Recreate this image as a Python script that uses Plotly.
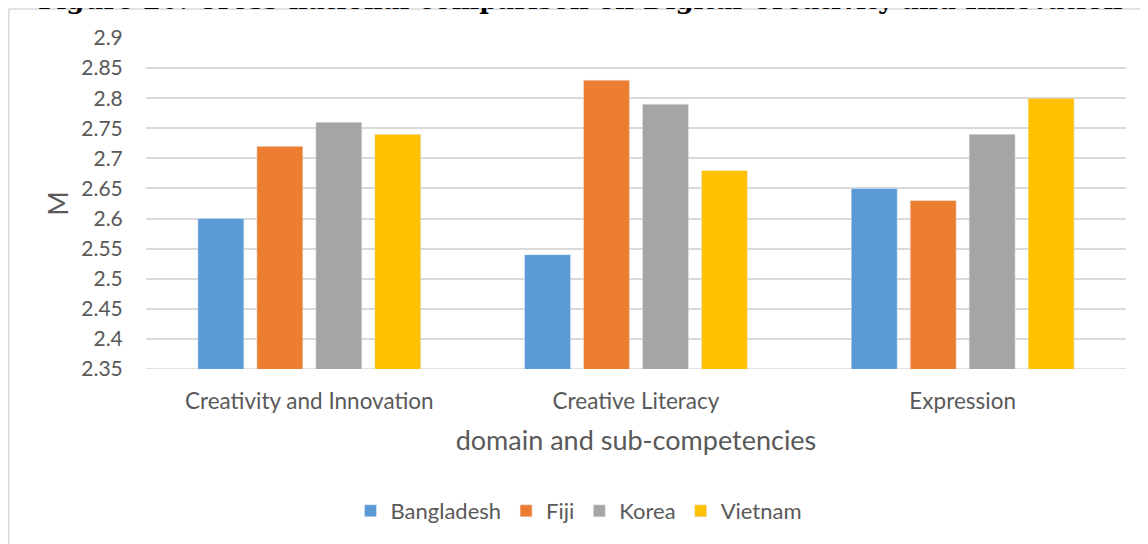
import plotly.graph_objects as go

categories = ["Creativity and Innovation", "Creative Literacy", "Expression"]
countries = ["Bangladesh", "Fiji", "Korea", "Vietnam"]
bangladesh = [2.60, 2.54, 2.65]
fiji = [2.72, 2.83, 2.63]
korea = [2.76, 2.79, 2.74]
vietnam = [2.74, 2.68, 2.80]
series = [bangladesh, fiji, korea, vietnam]
colors = ["#5b9bd5", "#ed7d31", "#a5a5a5", "#ffc000"]
y_ticks = [2.35, 2.4, 2.45, 2.5, 2.55, 2.6, 2.65, 2.7, 2.75, 2.8, 2.85, 2.9]
y_tick_labels = ["2.35", "2.4", "2.45", "2.5", "2.55", "2.6", "2.65", "2.7", "2.75", "2.8", "2.85", "2.9"]
title_text = "Figure 20. Cross-national comparison on Digital Creativity and Innovation"

# page offset caused by the default body margin of the html page
OFF = 8
W, H = 1148 - OFF, 544 - OFF
# plot area in page pixels: x 146..1126, y 38..369
ml = 146 - OFF
mt = 38 - OFF
mr = W - (1126 - OFF)
mb = H - (369 - OFF)
pw, ph = W - ml - mr, H - mt - mb

def px_x(x):
    return (x - OFF - ml) / pw

def px_y(y):
    return 1 - (y - OFF - mt) / ph

font_family = "Lato"
text_color = "#595959"

fig = go.Figure()
for name, vals, col in zip(countries, series, colors):
    fig.add_trace(go.Bar(name=name, x=categories, y=vals, marker=dict(color=col)))

fig.update_layout(
    width=W, height=H,
    margin=dict(l=ml, r=mr, t=mt, b=mb, autoexpand=False),
    paper_bgcolor="white", plot_bgcolor="white",
    barmode="group", bargap=0.278, bargroupgap=0.22,
    font=dict(family=font_family, color=text_color, size=21),
    showlegend=True,
    legend=dict(orientation="h", x=px_x(579), xanchor="center", y=px_y(511), yanchor="middle",
                font=dict(size=22, color=text_color), itemwidth=30, traceorder="normal"),
    xaxis=dict(showgrid=False, showline=False, ticks="", ticklabelstandoff=16, automargin=False,
               tickfont=dict(size=22.5, color=text_color),
               title=dict(text="domain and sub-competencies", font=dict(size=27, color=text_color), standoff=18)),
    yaxis=dict(range=[2.35, 2.9], tickmode="array", tickvals=y_ticks, ticktext=y_tick_labels, automargin=False,
               showgrid=True, gridcolor="#d9d9d9", gridwidth=1.5, zeroline=False, showline=False,
               ticks="outside", ticklen=18, tickcolor="rgba(0,0,0,0)", tickfont=dict(size=21, color=text_color),
               title=dict(text="M", font=dict(size=26, color=text_color), standoff=5)),
    shapes=[
        dict(type="line", xref="paper", yref="paper", x0=px_x(8.8), x1=px_x(1148), y0=px_y(9), y1=px_y(9),
             line=dict(color="#d9d9d9", width=1.5), layer="below"),
        dict(type="line", xref="paper", yref="paper", x0=px_x(8.8), x1=px_x(8.8), y0=px_y(9), y1=px_y(544),
             line=dict(color="#d9d9d9", width=1.5), layer="below"),
        dict(type="line", xref="paper", yref="y", x0=0, x1=1, y0=2.35, y1=2.35,
             line=dict(color="#d9d9d9", width=1.5), layer="below"),
    ],
    annotations=[
        dict(text="<b>" + title_text + "</b>", xref="paper", yref="paper", x=px_x(580), xanchor="center",
             y=px_y(17), yanchor="bottom", showarrow=False,
             font=dict(family="DejaVu Serif", size=26, color="black")),
    ],
)

fig.write_html("out.html")
